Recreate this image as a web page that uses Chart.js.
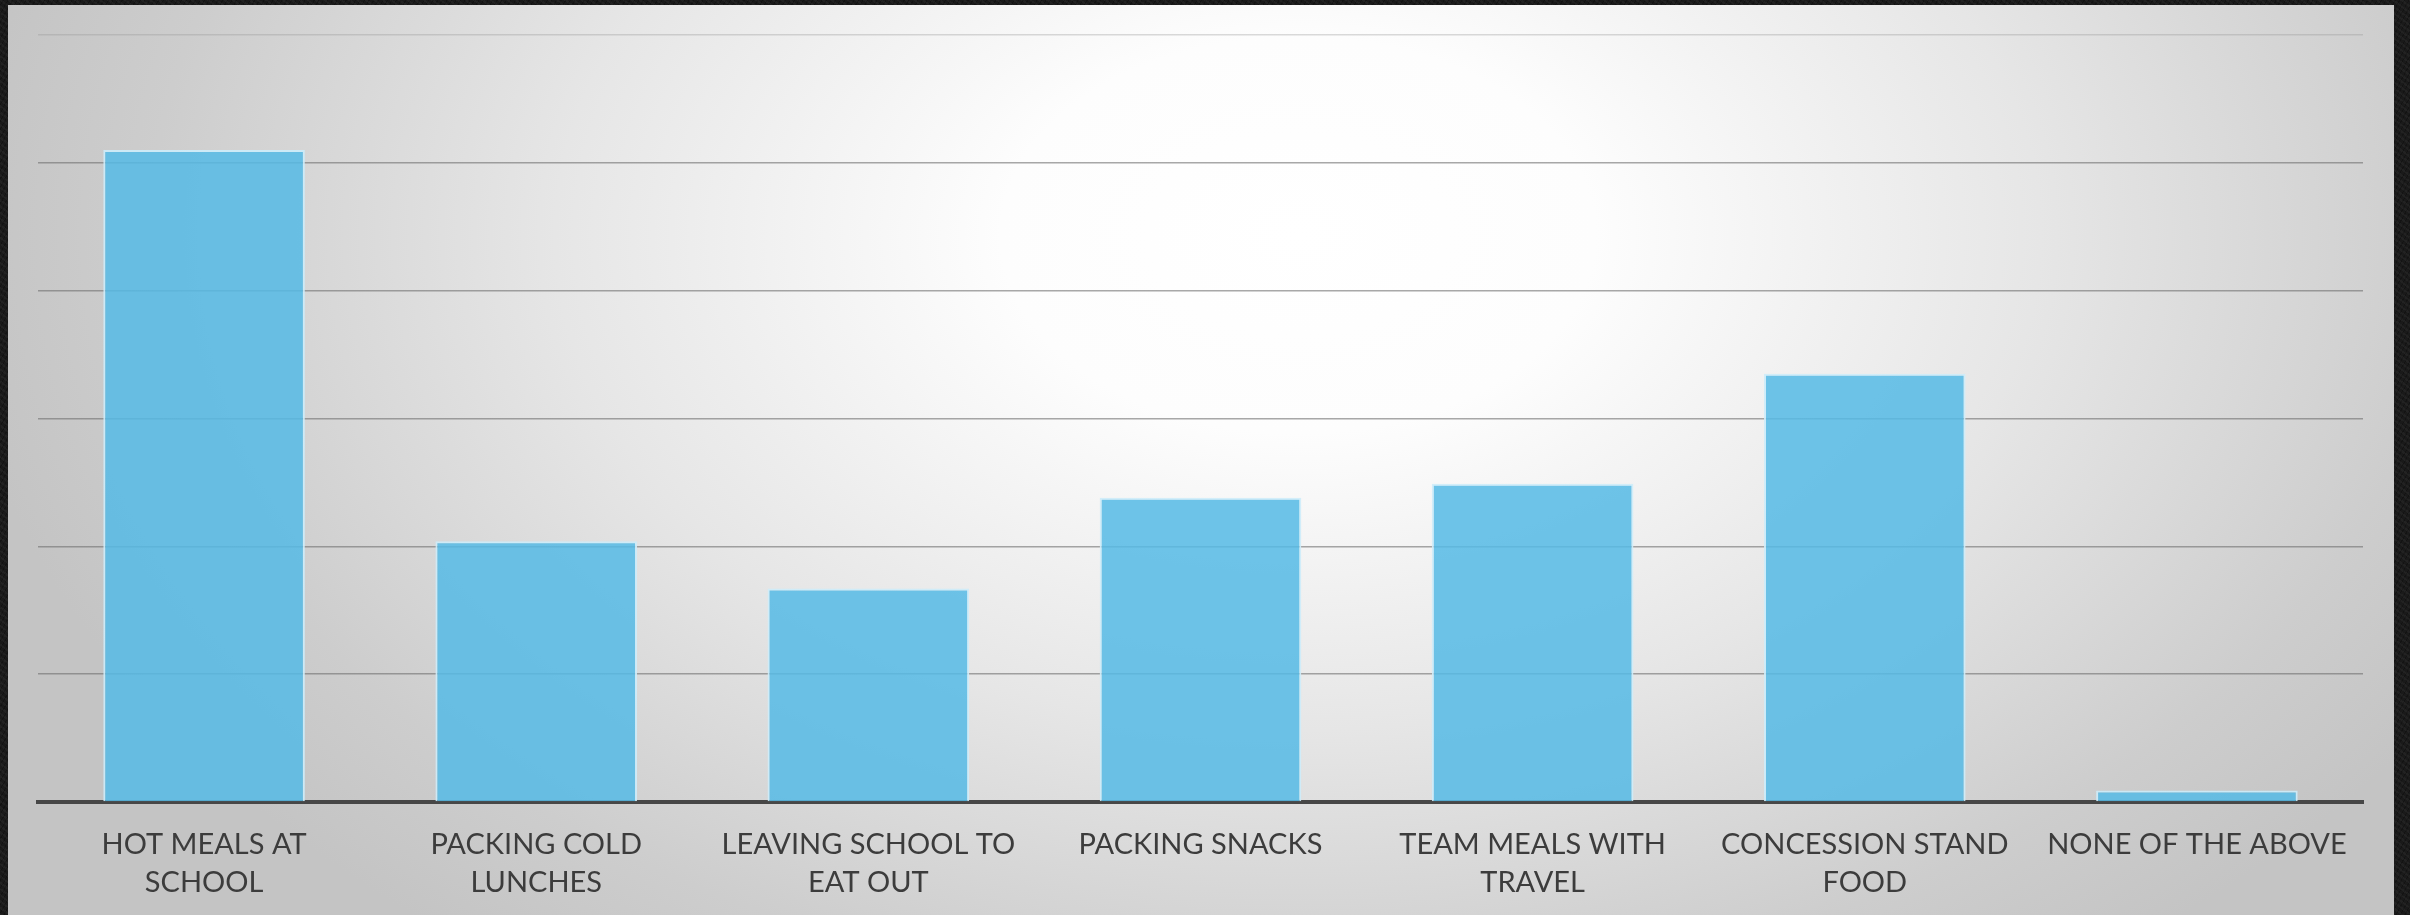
<!DOCTYPE html>
<html>
<head>
<meta charset="utf-8">
<script src="https://cdn.jsdelivr.net/npm/chart.js@4.4.1/dist/chart.umd.min.js"></script>
<style>
  html, body { margin: 0; padding: 0; width: 2410px; height: 915px; overflow: hidden; }
  body {
    background-color: #1a1a1a;
    background-image:
      repeating-linear-gradient(37deg, rgba(255,255,255,0.035) 0 2px, transparent 2px 5px),
      repeating-linear-gradient(-61deg, rgba(0,0,0,0.25) 0 1px, transparent 1px 4px);
  }
  #panel {
    position: absolute; left: 8px; top: 5px; width: 2386px; height: 910px;
    background: radial-gradient(ellipse 1350px 900px at 1290px 230px, #ffffff 0%, #fdfdfd 22%, #e6e6e6 55%, #cdcdcd 85%, #c4c4c4 100%);
  }
  #wrap { position: absolute; left: 0; top: 0; width: 2410px; height: 915px; }
</style>
</head>
<body>
<div id="panel"></div>
<div id="wrap"><canvas id="chart" width="2410" height="915"></canvas></div>
<script>
// Survey: where students get their food
const categories = [
  ["HOT MEALS AT", "SCHOOL"],
  ["PACKING COLD", "LUNCHES"],
  ["LEAVING SCHOOL TO", "EAT OUT"],
  "PACKING SNACKS",
  ["TEAM MEALS WITH", "TRAVEL"],
  ["CONCESSION STAND", "FOOD"],
  "NONE OF THE ABOVE"
];
const responses = [51.0, 20.4, 16.7, 23.8, 24.9, 33.5, 0.9];
const axisMax = 60;
const gridStep = 10;

const ctx = document.getElementById('chart').getContext('2d');
new Chart(ctx, {
  type: 'bar',
  data: {
    labels: categories,
    datasets: [{
      data: responses,
      backgroundColor: 'rgba(86,186,229,0.86)',
      borderColor: 'rgba(205,236,250,0.9)',
      borderWidth: 2,
      barPercentage: 0.607,
      categoryPercentage: 1.0
    }]
  },
  options: {
    responsive: false,
    animation: false,
    layout: { padding: { left: 38, right: 47, top: 35, bottom: 0 } },
    plugins: { legend: { display: false }, tooltip: { enabled: false } },
    scales: {
      y: {
        min: 0, max: axisMax,
        ticks: { display: false, stepSize: gridStep },
        border: { display: false },
        afterFit: s => { s.width = 0; },
        grid: {
          drawTicks: false,
          lineWidth: 1.5,
          color: c => c.tick && c.tick.value === axisMax ? 'rgba(150,150,150,0.35)' : 'rgba(110,110,110,0.6)'
        }
      },
      x: {
        grid: { display: false, drawTicks: false },
        border: { display: true, color: '#474747', width: 4 },
        afterFit: s => { s.height = 113; },
        ticks: {
          color: '#3c3c3c',
          padding: 24,
          maxRotation: 0,
          autoSkip: false,
          font: { family: 'Lato', size: 29, lineHeight: 1.3 }
        }
      }
    }
  }
});
</script>
</body>
</html>
